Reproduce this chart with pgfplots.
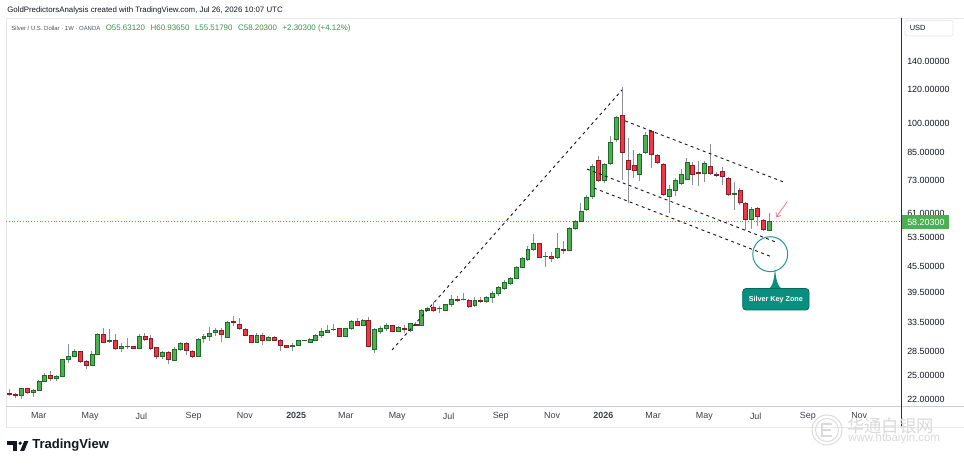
\documentclass[border=0pt]{standalone}
\usepackage{fontspec}
\setmainfont{Liberation Sans}
\newfontfamily\cjk{Noto Sans CJK SC}
\usepackage{pgfplots}
\usepackage{pgfplotstable}
\pgfplotsset{compat=1.18}
\usetikzlibrary{arrows.meta}

\definecolor{bullfill}{HTML}{4CAF50}
\definecolor{bulledge}{HTML}{1F6B2A}
\definecolor{bearfill}{HTML}{F23645}
\definecolor{bearedge}{HTML}{8A1C27}
\definecolor{wickgray}{HTML}{8C8F98}
\definecolor{textdark}{HTML}{131722}
\definecolor{labgray}{HTML}{3C3F47}
\definecolor{hdrgray}{HTML}{50535E}
\definecolor{hdrgreen}{HTML}{3E8E4F}
\definecolor{pricegreen}{HTML}{4CAF50}
\definecolor{paneline}{HTML}{E6E8EE}
\definecolor{axgray}{HTML}{C9CCD3}
\definecolor{axdark}{HTML}{2A2E39}
\definecolor{circteal}{HTML}{1E9E8A}
\definecolor{calloutfill}{HTML}{0A8F7E}
\definecolor{calloutedge}{HTML}{05695C}
\definecolor{pinkc}{HTML}{F0707C}
\definecolor{dashc}{HTML}{1A1A1A}
\definecolor{wm}{HTML}{DADADA}

\tikzset{
  wick/.style={draw=wickgray, line width=0.55pt},
  bullbody/.style={fill=bullfill, draw=bulledge, line width=0.4pt},
  bearbody/.style={fill=bearfill, draw=bearedge, line width=0.4pt},
  dashline/.style={draw=dashc, line width=0.7pt, dash pattern=on 2.2pt off 2.6pt},
}

% weekly OHLC, d = days since 2024-01-01 (week start)
\pgfplotstableread{
d O H L C
28 22.70 23.20 22.37 22.52
35 22.58 22.70 22.08 22.49
42 22.49 23.41 21.96 23.33
49 23.33 23.41 22.61 22.78
56 22.83 23.28 22.20 23.07
63 23.07 24.42 23.00 24.28
70 24.24 25.40 24.15 25.04
77 25.04 25.64 24.30 24.59
84 24.59 25.10 24.24 24.86
91 24.90 27.45 24.80 27.36
98 27.30 29.80 26.80 27.75
105 27.75 28.90 27.66 28.58
112 28.58 28.70 26.84 27.10
119 27.10 27.20 26.00 26.50
126 26.45 28.58 26.40 28.10
133 28.10 31.55 28.00 31.40
140 31.40 32.40 29.95 30.10
147 30.25 32.25 29.95 30.30
154 30.30 31.45 28.80 29.00
161 29.00 29.95 28.50 29.40
168 29.40 30.70 28.90 29.42
175 29.35 29.40 28.95 29.00
182 29.00 31.40 28.90 31.10
189 31.10 31.65 30.30 30.60
196 30.70 31.30 28.80 29.00
203 29.20 29.30 27.36 27.75
210 27.75 28.60 27.36 28.40
217 28.40 28.60 26.60 27.36
224 27.25 29.30 27.10 28.90
231 28.90 30.10 28.60 29.80
238 29.80 30.10 28.00 28.70
245 28.60 28.80 27.60 27.80
252 27.75 30.70 27.70 30.50
259 30.65 31.45 29.90 31.10
266 31.05 32.60 30.30 31.50
273 31.80 32.50 31.10 32.13
280 32.13 32.50 30.10 31.40
287 30.95 33.70 30.80 33.45
294 33.65 34.70 32.90 33.45
301 33.20 34.40 32.10 32.40
308 32.30 32.50 31.10 31.20
315 31.20 31.30 30.00 30.10
322 30.10 31.60 30.00 31.20
329 31.25 31.60 29.60 30.40
336 30.40 31.10 30.20 30.90
343 30.95 31.05 30.20 30.35
350 30.40 30.50 28.70 29.50
357 29.55 29.65 29.15 29.20
364 29.30 29.90 28.70 29.60
371 29.50 30.40 29.40 30.30
378 30.35 30.40 30.20 30.37
385 30.10 30.75 29.90 30.60
392 30.40 31.40 30.20 31.25
399 31.20 32.40 30.80 31.85
406 31.80 32.95 31.60 32.13
413 32.30 33.26 32.00 32.32
420 32.40 32.55 30.90 31.10
427 31.10 32.50 31.00 32.40
434 32.40 33.90 32.10 33.70
441 33.70 34.30 32.80 32.95
448 32.95 34.10 32.80 33.95
455 33.94 34.50 29.20 29.30
462 28.90 32.40 28.30 32.30
469 31.95 32.90 31.50 32.40
476 32.40 33.30 32.00 32.90
483 32.90 33.00 31.70 31.85
490 31.85 32.80 31.70 32.60
497 32.40 33.00 31.60 32.25
504 32.10 33.40 31.70 33.30
511 33.20 33.60 32.80 32.90
518 32.95 36.00 32.90 35.86
525 35.80 36.50 35.70 36.10
532 36.30 37.40 35.40 35.86
539 36.10 36.60 35.20 36.15
546 35.86 37.10 35.70 36.90
553 37.00 38.90 36.50 38.10
560 38.10 38.80 37.40 37.90
567 38.00 39.30 37.80 38.02
574 37.90 38.10 36.30 36.60
581 36.70 38.40 36.40 37.90
588 37.90 38.40 37.30 37.65
595 37.70 38.70 37.30 38.50
602 38.45 39.70 37.30 39.30
609 39.30 40.80 38.80 40.55
616 40.50 42.20 40.10 41.70
623 41.60 42.90 41.10 42.65
630 42.60 45.70 42.40 45.40
637 45.40 48.00 45.30 47.60
644 47.40 50.90 46.80 50.00
651 49.90 54.40 49.50 51.70
658 51.70 51.80 47.60 47.95
665 48.05 49.30 45.50 48.10
672 48.05 49.20 46.70 47.70
679 47.95 54.60 47.50 50.20
686 50.00 52.40 48.80 49.80
693 49.84 56.50 49.50 56.00
700 56.20 58.70 55.60 58.40
707 58.50 64.40 58.00 61.80
714 62.30 67.40 61.80 66.60
721 66.80 80.00 65.80 79.00
728 81.40 83.50 72.30 72.90
735 73.20 80.50 72.00 79.80
742 80.20 93.30 79.50 90.00
749 91.65 104.00 90.30 103.20
756 104.60 121.70 73.20 85.20
763 81.70 92.00 64.40 77.60
770 79.40 86.30 73.90 77.10
777 75.60 84.80 72.60 84.40
784 85.20 95.00 84.60 93.70
791 95.80 96.30 78.00 84.20
798 83.80 84.60 80.00 80.70
805 79.80 80.50 66.90 67.80
812 67.00 71.00 61.20 69.50
819 69.30 74.00 66.90 72.90
826 71.90 77.60 71.10 75.50
833 73.60 82.40 73.20 80.50
840 79.40 80.80 71.10 75.50
847 76.20 81.00 70.70 76.00
854 75.90 81.30 72.30 80.20
861 78.80 89.00 75.10 75.90
868 75.60 76.50 74.40 75.20
875 76.70 78.50 71.10 74.60
882 73.90 74.40 67.00 67.80
889 67.80 72.30 62.10 67.90
896 69.30 70.00 63.70 64.60
903 64.40 64.90 55.60 59.00
910 59.00 63.00 55.90 62.30
917 62.60 63.00 57.00 59.80
924 58.76 59.00 55.30 55.80
931 55.63 60.94 55.52 58.20
}\ohlc

\begin{document}
\begin{tikzpicture}[x=0.75pt,y=-0.75pt]
\fill[white] (0,0) rectangle (964,466);
\path[use as bounding box] (0,0) rectangle (964,466);
% pane frame
\draw[paneline, line width=0.5pt] (6,18) -- (964,18);
\draw[paneline, line width=0.5pt] (6,18) -- (6,427);
\draw[paneline, line width=0.6pt] (6,427) -- (964,427);
\draw[axgray, line width=0.6pt] (6,406) -- (964,406);
\coordinate (axSW) at (6,406);

\begin{axis}[
  at={(axSW)}, anchor=south west, scale only axis,
  width=671.25pt, height=291pt,
  xmin=24, xmax=1087.5,
  ymode=log, ymin=21.17, ymax=178,
  axis line style={draw=none},
  major tick length=0pt, minor tick length=0pt,
  tick style={draw=none},
  xtick={60,121,182,244,305,366,425,486,547,609,670,731,790,851,912,974,1035},
  xticklabels={Mar,May,Jul,Sep,Nov,\textbf{2025},Mar,May,Jul,Sep,Nov,\textbf{2026},Mar,May,Jul,Sep,Nov},
  xticklabel style={font=\fontsize{6.7}{8}\selectfont, text=labgray, yshift=-1.5pt, xshift=1.8pt},
  ytick={22,25,28.5,33.5,39.5,45.5,53.5,61,73,85,100,120,140},
  yticklabels={22.00000,25.00000,28.50000,33.50000,39.50000,45.50000,53.50000,61.00000,73.00000,85.00000,100.00000,120.00000,140.00000},
  yticklabel pos=right,
  yticklabel style={font=\fontsize{6.7}{8}\selectfont, text=textdark, anchor=west, inner sep=0pt, xshift=4.5pt},
  clip=false,
  /pgf/number format/assume math mode=true,
]
% current price line
\addplot[draw=pricegreen, line width=0.6pt, dash pattern=on 0.7pt off 1.4pt] coordinates {(24,58.203) (1087.5,58.203)};

% candles
\pgfplotsforeachungrouped \i in {0,...,129}{%
  \pgfplotstablegetelem{\i}{d}\of\ohlc \let\cd\pgfplotsretval
  \pgfplotstablegetelem{\i}{O}\of\ohlc \let\cO\pgfplotsretval
  \pgfplotstablegetelem{\i}{H}\of\ohlc \let\cH\pgfplotsretval
  \pgfplotstablegetelem{\i}{L}\of\ohlc \let\cL\pgfplotsretval
  \pgfplotstablegetelem{\i}{C}\of\ohlc \let\cC\pgfplotsretval
  \pgfmathsetmacro\xl{\cd-2.35}%
  \pgfmathsetmacro\xr{\cd+2.35}%
  \ifdim\cC pt<\cO pt \def\bst{bearbody}\else\def\bst{bullbody}\fi
  \edef\temp{%
    \noexpand\addplot[wick] coordinates {(\cd,\cL) (\cd,\cH)};
    \noexpand\addplot[\bst] coordinates {(\xl,\cO) (\xr,\cO) (\xr,\cC) (\xl,\cC)} -- cycle;
  }\temp
}

% drawings
\addplot[dashline] coordinates {(482.7,28.79) (756.0,119.9)};
\addplot[dashline] coordinates {(759.6,101.2) (950.9,72.0)};
\addplot[dashline] coordinates {(714.4,77.7) (941.4,51.8)};
\addplot[dashline] coordinates {(722.7,70.0) (934.2,47.96)};
\addplot[draw=pinkc, line width=0.55pt, -{Straight Barb[length=2.8pt,width=4.5pt]}] coordinates {(952.4,65.0) (939.0,59.6)};
\draw[circteal, line width=0.75pt] (axis cs:932.1,48.7) circle[radius=13.1pt];
\end{axis}

% price axis line
\draw[axdark, line width=0.7pt] (901,18) -- (901,427);
% current price label
\fill[pricegreen] (901.5,215.3) rectangle (949.3,228.7);
\node[anchor=west, inner sep=0pt, text=white, font=\fontsize{6.7}{8}\selectfont] at (907,222) {58.20300};
% USD box
\draw[paneline, line width=0.6pt, fill=white, rounded corners=1.5pt] (905,20.5) rectangle (953,36);
\node[anchor=west, inner sep=0pt, text=textdark, font=\fontsize{5.6}{7}\selectfont] at (909.5,28.3) {USD};

% callout
\fill[calloutfill] (775,266) .. controls (775.5,280) and (778,286) .. (782,289.5) -- (768.5,289.5) .. controls (772.5,286) and (774.5,280) .. (775,266) -- cycle;
\draw[calloutedge, fill=calloutfill, line width=0.6pt, rounded corners=2.5pt] (742.7,288.5) rectangle (809,310);
\node[text=white, font=\bfseries\fontsize{5.4}{7}\selectfont, inner sep=0pt] at (775.8,299.5) {Silver Key Zone};

% header
\node[anchor=west, inner sep=0pt, text=textdark, font=\fontsize{5.9}{7}\selectfont] at (7,10) {GoldPredictorsAnalysis created with TradingView.com, Jul 26, 2026 10:07 UTC};
\node[anchor=west, inner sep=0pt, text=hdrgray, font=\fontsize{4.45}{7}\selectfont] at (11,28.3) {Silver / U.S. Dollar · 1W · OANDA};
\node[anchor=west, inner sep=0pt, text=hdrgreen, font=\fontsize{5.95}{7}\selectfont] at (105.5,28.3) {O55.63120\hspace{4.2pt}H60.93650\hspace{4.2pt}L55.51790\hspace{4.2pt}C58.20300\hspace{4.2pt}+2.30300 (+4.12\%)};

% TradingView logo
\fill[textdark] (7.3,441.2) rectangle (17.3,445.3);
\fill[textdark] (12.8,441.2) rectangle (17.3,450.8);
\fill[textdark] (20.2,443.2) circle (1.8);
\fill[textdark] (24.2,441.2) -- (28.3,441.2) -- (24.3,450.8) -- (20.2,450.8) -- cycle;
\node[anchor=west, inner sep=0pt, text=textdark, font=\bfseries\fontsize{9.8}{11}\selectfont] at (32,445.5) {TradingView};

% watermark
\draw[wm, line width=0.7pt] (827,430) circle (15);
\draw[wm, line width=0.7pt] (827,430) circle (11.5);
\draw[wm, line width=0.9pt] (832,424) -- (822,424) -- (822,436) -- (832,436);
\draw[wm, line width=0.9pt] (822,430) -- (831,430);
\node[anchor=west, inner sep=0pt, text=wm, font=\cjk\fontsize{13}{14}\selectfont] at (847,425.5) {华通白银网};
\node[anchor=west, inner sep=0pt, text=wm, font=\fontsize{8.6}{9}\selectfont] at (848,439) {www.htbaiyin.com};
\end{tikzpicture}
\end{document}
